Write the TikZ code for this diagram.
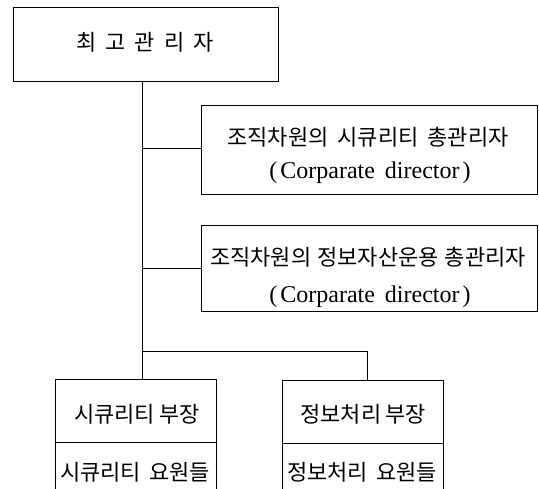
\documentclass[tikz,border=0pt]{standalone}
\usepackage{fontspec}
\setmainfont{Liberation Serif}
\newfontfamily\cjk{Noto Sans CJK KR}
\begin{document}
\begin{tikzpicture}[x=1pt,y=-1pt,
  ln/.style={draw=black,line width=0.8pt},
  kt/.style={font=\cjk\fontsize{22}{24}\selectfont,inner sep=0pt,anchor=center},
  lt/.style={font=\fontsize{24}{26}\selectfont,inner sep=0pt,anchor=center}]
\useasboundingbox (0,0) rectangle (539,489);
% boxes
\node[ln,minimum width=265pt,minimum height=74pt,inner sep=0pt] (top) at (145.5,44) {};
\node[ln,minimum width=336pt,minimum height=89pt,inner sep=0pt] (sec) at (369,149.5) {};
\node[ln,minimum width=336pt,minimum height=86pt,inner sep=0pt] (inf) at (369,268) {};
% texts
\node[kt] (ttop) at (145,42) {최\hspace{9pt}고\hspace{9pt}관\hspace{9pt}리\hspace{9pt}자};
\node[kt] (tsec1) at (368,137) {조직차원의\hspace{9pt}시큐리티\hspace{9pt}총관리자};
\node[lt] (tsec2) at (370,173) {(\hspace{3pt}Corparate\hspace{4pt} director\hspace{3pt})};
\node[kt] (tinf1) at (368,257) {조직차원의\hspace{6pt}정보자산운용\hspace{6pt}총관리자};
\node[lt] (tinf2) at (370,297) {(\hspace{3pt}Corparate\hspace{4pt} director\hspace{3pt})};
% bottom boxes (open at the bottom)
\coordinate (lb1) at (55,489); \coordinate (lb2) at (55,379);
\coordinate (lb3) at (216,379); \coordinate (lb4) at (216,489);
\coordinate (rb1) at (282,489); \coordinate (rb2) at (282,380);
\coordinate (rb3) at (443,380); \coordinate (rb4) at (443,489);
\draw[ln] (lb1) -- (lb2) -- (lb3) -- (lb4);
\draw[ln] (rb1) -- (rb2) -- (rb3) -- (rb4);
\coordinate (ld1) at (55,442); \coordinate (ld2) at (216,442);
\coordinate (rd1) at (282,443); \coordinate (rd2) at (443,443);
\draw[ln] (ld1) -- (ld2);
\draw[ln] (rd1) -- (rd2);
\node[kt] (tl1) at (137,414) {시큐리티\hspace{4pt}부장};
\node[kt] (tl2) at (135,472) {시큐리티\hspace{8pt}요원들};
\node[kt] (tr1) at (363,414) {정보처리\hspace{4pt}부장};
\node[kt] (tr2) at (362,472) {정보처리\hspace{8pt}요원들};
% connectors
\coordinate (jbot) at (142,351);
\coordinate (jr) at (367,351);
\draw[ln] (top.south -| jbot) -- (jbot);
\draw[ln] (sec.west |- 0,148) -- (142,148);
\draw[ln] (inf.west |- 0,268) -- (142,268);
\draw[ln] (jbot) -- (142,379);
\draw[ln] (jbot) -- (jr) -- (367,380);
\end{tikzpicture}
\end{document}
